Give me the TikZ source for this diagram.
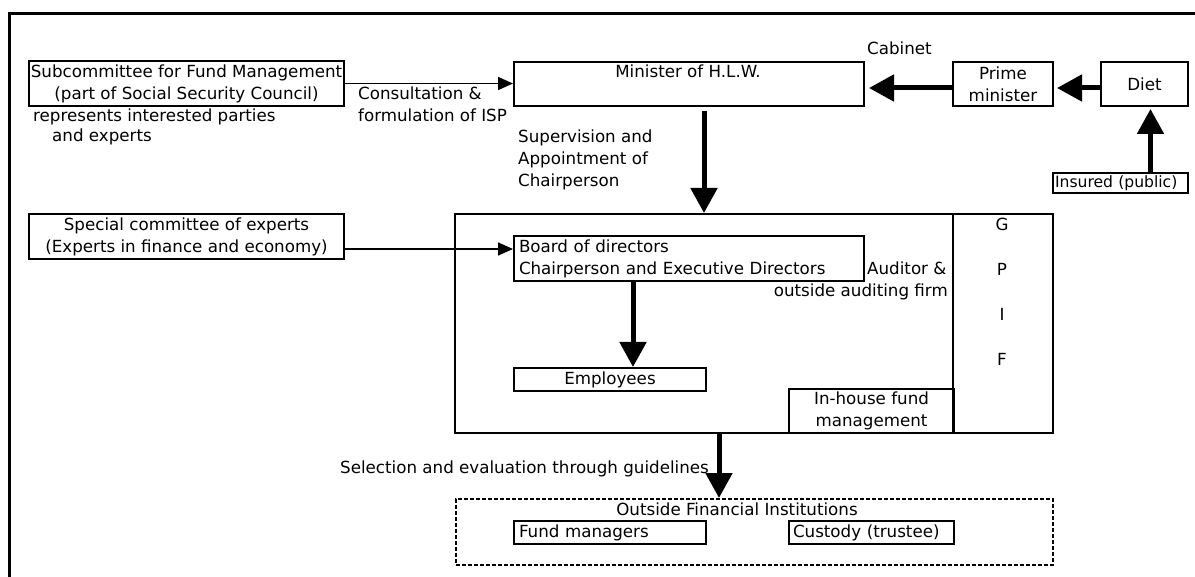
\documentclass[tikz,border=0pt]{standalone}
\usepackage{fontspec}
\setmainfont{DejaVu Sans}
\usetikzlibrary{arrows.meta}

\tikzset{
  box/.style={draw, line width=2pt, rectangle, anchor=north west, inner sep=0pt, align=center},
  lbl/.style={anchor=base west, inner sep=0pt},
  thinarr/.style={-{Triangle[length=15pt,width=13pt]}, line width=1.5pt},
  thickarr/.style={-{Triangle[length=25pt,width=26pt]}, line width=5pt},
}

\begin{document}
\begin{tikzpicture}[x=1pt, y=-1pt, font=\fontsize{16.7}{22}\selectfont]
    \useasboundingbox (0,0) rectangle (1195,577);
    % Frame
    \draw[line width=3pt] (9,577) -- (9,14) -- (1195,14);

    % Subcommittee
    \node[box, minimum width=315pt, minimum height=45pt] (subc) at (28,60) {Subcommittee for Fund Management\\(part of Social Security Council)};
    \node[lbl] (repr) at (33,122) {represents interested parties};
    \node[lbl] (reprb) at (52,142) {and experts};
    \node[lbl] (cons) at (358,100) {Consultation \&};
    \node[lbl] (consb) at (358,122) {formulation of ISP};

    % Minister, Prime minister, Diet
    \node[box, minimum width=350pt, minimum height=44pt] (min) at (513,61) {};
    \node[anchor=base, inner sep=0pt] (mintxt) at (688,78) {Minister of H.L.W.};
    \node[lbl] (cab) at (867,55) {Cabinet};
    \node[box, minimum width=100pt, minimum height=44pt] (pm) at (952,61) {Prime\\minister};
    \node[box, minimum width=87pt, minimum height=44pt] (diet) at (1100,61) {Diet};
    \node[box, text width=131pt, align=left, inner xsep=2pt, minimum height=20pt, font=\fontsize{15.6}{20}\selectfont] (ins) at (1052,172) {Insured (public)};

    % Supervision
    \node[lbl] (sup) at (518,143) {Supervision and};
    \node[lbl] (supb) at (518,165) {Appointment of};
    \node[lbl] (supc) at (518,187) {Chairperson};

    % GPIF
    \node[box, minimum width=598pt, minimum height=219pt] (gpif) at (454,213) {};
    \draw[line width=1.5pt] ([xshift=499pt]gpif.north west) -- ([xshift=499pt]gpif.south west);
    \foreach \l/\y in {G/224, P/269, I/314, F/359}
        \node (gpif\l) at (1002,\y) {\l};
    \node[box, text width=340pt, align=left, inner xsep=5pt, minimum height=45pt] (board) at (513,235) {Board of directors\\Chairperson and Executive Directors};
    \node[lbl] (aud) at (867,275) {Auditor \&};
    \node[anchor=base east, inner sep=0pt] (audb) at (948,297) {outside auditing firm};
    \node[box, minimum width=192pt, minimum height=23pt] (emp) at (513,367) {Employees};
    \node[box, minimum width=165pt, minimum height=44pt] (inh) at (788,388) {In-house fund\\management};

    % Special committee
    \node[box, minimum width=315pt, minimum height=45pt] (spec) at (28,213) {Special committee of experts\\(Experts in finance and economy)};

    % Outside
    \node[lbl] (sel) at (340,473) {Selection and evaluation through guidelines};
    \node[box, dash pattern=on 4pt off 2pt, line width=1.5pt, minimum width=597pt, minimum height=66pt] (ofi) at (455,498) {};
    \node[anchor=base, inner sep=0pt] (ofitxt) at (737,515) {Outside Financial Institutions};
    \node[box, text width=182pt, align=left, inner xsep=5pt, minimum height=23pt] (fm) at (513,520) {Fund managers};
    \node[box, text width=157pt, align=left, inner xsep=4pt, minimum height=23pt] (cust) at (788,520) {Custody (trustee)};

    % Arrows
    \draw[thinarr] (subc.east) -- (subc.east -| min.west);
    \draw[thinarr] ([yshift=-12.5pt]spec.east) -- ([yshift=-12.5pt]spec.east -| board.west);
    \draw[thickarr] ([yshift=-4pt]pm.west) -- ([xshift=4pt,yshift=-4pt]pm.west -| min.east);
    \draw[thickarr] ([yshift=-4pt]diet.west) -- ([xshift=3pt,yshift=-4pt]diet.west -| pm.east);
    \draw[thickarr] ([xshift=6pt]diet.south |- ins.north) -- ([xshift=6pt,yshift=-2pt]diet.south);
    \draw[thickarr] ([xshift=15pt,yshift=-4pt]min.south) -- ([xshift=15pt]min.south |- gpif.north);
    \draw[thickarr] ([xshift=-56pt]board.south) -- ([xshift=-56pt]board.south |- emp.north);
    \draw[thickarr] ([xshift=-35pt]gpif.south) -- ([xshift=-35pt]gpif.south |- ofi.north);
\end{tikzpicture}
\end{document}
